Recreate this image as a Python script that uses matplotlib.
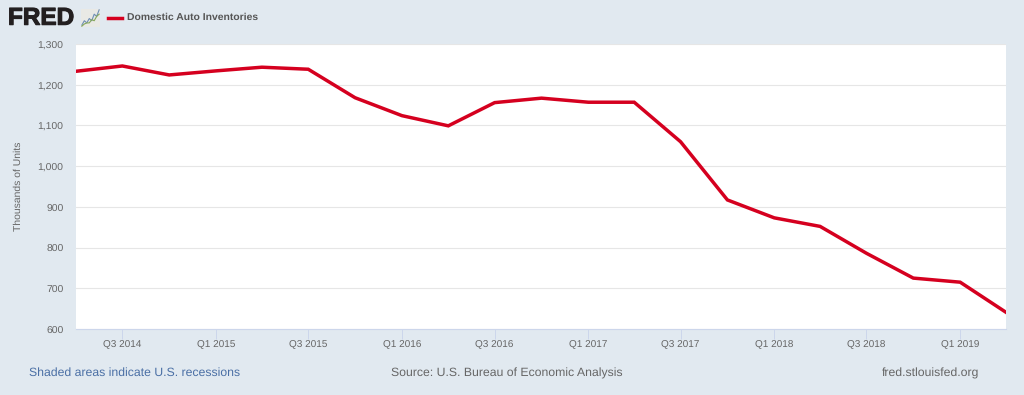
import matplotlib

matplotlib.use("Agg")
import matplotlib.dates as mdates
import matplotlib.patheffects as pe
import matplotlib.pyplot as plt
import pandas as pd
from matplotlib.ticker import FuncFormatter
from matplotlib.transforms import ScaledTranslation

plt.rcParams["font.family"] = ["Liberation Sans", "DejaVu Sans"]
plt.rcParams["text.hinting"] = "no_hinting"

BG = "#e1e9f0"
RED = "#d5001f"
GREY = "#666666"

W, H = 1024, 395

quarters = pd.date_range("2014-04-01", "2019-04-01", freq="QS")
inventories = [
    1233, 1246, 1224, 1234, 1243, 1238, 1168, 1124, 1099, 1156, 1167,
    1157, 1157, 1060, 917, 873, 852, 786, 725, 715, 641,
]
y_ticks = [600, 700, 800, 900, 1000, 1100, 1200, 1300]
x_tick_dates = pd.date_range("2014-07-01", "2019-01-01", freq="2QS")
x_tick_labels = [
    "Q3 2014", "Q1 2015", "Q3 2015", "Q1 2016", "Q3 2016",
    "Q1 2017", "Q3 2017", "Q1 2018", "Q3 2018", "Q1 2019",
]
icon_blue = [1, 3, 2, 4, 3, 6, 5, 8]
icon_green = [0.5, 1.5, 2, 2, 3.5, 3, 5, 6]

fig = plt.figure(figsize=(W / 100, H / 100), dpi=100, facecolor=BG)
ax = fig.add_axes([76 / W, 1 - 329 / H, 930 / W, 285 / H])
ax.set_facecolor("white")

ax.plot(quarters, inventories, color=RED, linewidth=2.5, solid_joinstyle="miter")

ax.set_xlim(quarters[0], quarters[-1])
ax.set_ylim(600, 1300)
ax.set_yticks(y_ticks)
ax.yaxis.set_major_formatter(FuncFormatter(lambda v, _: f"{int(v):,}"))
ax.set_xticks(x_tick_dates)
ax.set_xticklabels(x_tick_labels)
ax.xaxis.set_minor_locator(mdates.YearLocator(100))

ax.grid(axis="y", color="#e6e6e6", linewidth=0.8)
ax.set_axisbelow(True)
for side in ["top", "right", "left"]:
    ax.spines[side].set_visible(False)
ax.spines["bottom"].set_color("#ccd6eb")
ax.spines["bottom"].set_linewidth(0.8)

ax.tick_params(axis="y", length=0, pad=9, labelsize=7.5, labelcolor=GREY)
ax.tick_params(axis="x", length=7, width=0.7, color="#ccd6eb", pad=0.5, labelsize=7.2, labelcolor=GREY)
ax.set_ylabel("Thousands of Units", fontsize=7.5, color=GREY)
ax.yaxis.set_label_coords(-53.5 / 930, 0.5)

# nudge y labels down a pixel
nudge = ScaledTranslation(0, -1 / 100, fig.dpi_scale_trans)
for label in ax.get_yticklabels():
    label.set_transform(label.get_transform() + nudge)

# header: logo and legend
logo = fig.text(8 / W, 1 - 18.5 / H, "FRED", fontsize=17.5, fontweight="bold", color="#231f20", va="center")
logo.set_path_effects([pe.withStroke(linewidth=0.8, foreground="#231f20")])
icon = fig.add_axes([81 / W, 1 - 27 / H, 19 / W, 18 / H])
icon.set_facecolor("#e9e9e5")
icon.plot(icon_blue, color="#6f8fb5", linewidth=0.8)
icon.plot(icon_green, color="#86a85a", linewidth=0.8)
icon.set_xticks([])
icon.set_yticks([])
for spine in icon.spines.values():
    spine.set_visible(False)

fig.add_artist(plt.Line2D([108 / W, 122 / W], [1 - 17.5 / H] * 2, color=RED, linewidth=2.5))
fig.text(127 / W, 1 - 17.5 / H, "Domestic Auto Inventories", fontsize=7.5, fontweight="bold", color="#555555", va="center")

# footer
fig.text(29 / W, 1 - 373 / H, "Shaded areas indicate U.S. recessions", fontsize=8.8, color="#4a6fa5", va="center")
fig.text(391 / W, 1 - 373 / H, "Source: U.S. Bureau of Economic Analysis", fontsize=8.8, color=GREY, va="center")
fig.text(979 / W, 1 - 373 / H, "fred.stlouisfed.org", fontsize=8.8, color=GREY, va="center", ha="right")

fig.savefig("out.png", dpi=100, facecolor=BG)
